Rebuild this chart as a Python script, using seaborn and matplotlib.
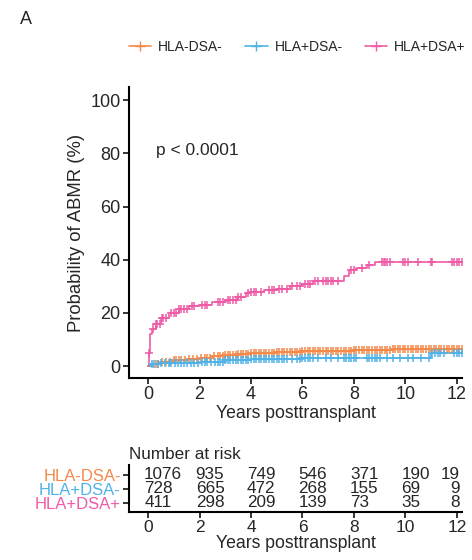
import numpy as np
import pandas as pd
import matplotlib
matplotlib.use("Agg")
import matplotlib.pyplot as plt
import seaborn as sns
from matplotlib.lines import Line2D

sns.set_style("white")
plt.rcParams['font.family'] = ['Liberation Sans', 'DejaVu Sans']

# ---- data ----
groups = ['HLA-DSA-', 'HLA+DSA-', 'HLA+DSA+']
colors = ['#F4894A', '#4FB3E8', '#EE5BA6']

# cumulative incidence steps (years, %)
t_neg = [0, 0.2, 0.5, 1.0, 1.5, 2.0, 2.5, 3.0, 3.5, 4.0, 5.0, 6.0, 7.5, 8.0, 8.5, 9.5, 12.3]
v_neg = [0, 0.8, 1.5, 2.2, 2.8, 3.2, 3.6, 4.2, 4.6, 5.0, 5.3, 5.5, 5.6, 5.9, 6.2, 6.5, 6.5]
t_hla = [0, 0.1, 0.5, 1.0, 2.0, 3.0, 4.0, 6.0, 10.8, 11.0, 12.3]
v_hla = [0, 0.6, 1.0, 1.3, 1.7, 2.4, 2.8, 3.0, 3.2, 5.0, 5.0]
t_dsa = [0, 0.03, 0.08, 0.15, 0.3, 0.5, 0.8, 1.2, 1.6, 2.0, 2.5, 3.0, 3.5, 3.8, 4.0,
         4.5, 5.0, 5.5, 6.0, 6.4, 7.6, 7.8, 8.1, 8.5, 8.8, 12.3]
v_dsa = [0, 5, 12, 14, 16, 18, 20, 21.5, 22.5, 23, 24, 25, 26, 27.5, 28,
         28.5, 29, 30, 31, 32, 34, 36, 37, 38, 39, 39]

# censoring times
c_neg = [0.3, 0.4, 0.55, 0.7, 0.85, 1.0, 1.1, 1.2, 1.3, 1.45, 1.6, 1.75, 1.9, 2.05, 2.2,
         2.3, 2.4, 2.55, 2.7, 2.8, 2.9, 3.0, 3.1, 3.2, 3.3, 3.4, 3.5, 3.6, 3.7, 3.8, 3.9,
         4.0, 4.1, 4.2, 4.3, 4.4, 4.5, 4.6, 4.7, 4.8, 4.9, 5.0, 5.1, 5.2, 5.3, 5.4, 5.5,
         5.6, 5.7, 5.8, 5.9, 6.0, 6.1, 6.2, 6.3, 6.4, 6.5, 6.6, 6.7, 6.8, 6.9, 7.0, 7.1,
         7.2, 7.3, 7.4, 7.5, 7.6, 7.7, 7.8, 7.9, 8.0, 8.1, 8.2, 8.3, 8.4, 8.5, 8.6, 8.7,
         8.8, 8.9, 9.0, 9.1, 9.2, 9.3, 9.4, 9.5, 9.6, 9.7, 9.8, 9.9, 10.0, 10.1, 10.2,
         10.3, 10.4, 10.5, 10.6, 10.7, 10.8, 10.9, 11.0, 11.1, 11.2, 11.3, 11.4, 11.5,
         11.6, 11.7, 11.8, 11.9, 12.0, 12.1, 12.2]
c_hla = [0.15, 0.25, 0.4, 0.5, 0.65, 0.8, 0.9, 1.05, 1.15, 1.3, 1.4, 1.5, 1.65, 1.8, 1.95,
         2.1, 2.2, 2.3, 2.45, 2.6, 2.7, 2.8, 2.9, 3.0, 3.1, 3.2, 3.3, 3.4, 3.5, 3.6, 3.7,
         3.8, 3.9, 4.0, 4.1, 4.2, 4.3, 4.4, 4.5, 4.6, 4.7, 4.8, 4.9, 5.0, 5.1, 5.2, 5.3,
         5.4, 5.6, 5.8, 5.9, 6.0, 6.1, 6.2, 6.3, 6.4, 6.6, 6.9, 7.1, 7.4, 7.6, 7.7, 7.8,
         7.9, 8.0, 8.1, 8.5, 8.6, 8.7, 8.8, 8.9, 9.0, 9.3, 9.5, 9.8, 10.1, 10.3, 10.6,
         10.9, 11.05, 11.15, 11.25, 11.35, 11.5, 11.9, 12.0, 12.1, 12.2]
c_dsa = [0.05, 0.2, 0.3, 0.35, 0.45, 0.55, 0.6, 0.7, 0.9, 1.0, 1.1, 1.2, 1.3, 1.4, 1.5,
         1.7, 1.8, 2.1, 2.2, 2.3, 2.7, 2.8, 2.9, 3.1, 3.2, 3.3, 3.4, 3.5, 3.6, 3.9, 4.0,
         4.1, 4.2, 4.4, 4.7, 4.8, 4.9, 5.1, 5.2, 5.4, 5.6, 5.8, 5.9, 6.1, 6.2, 6.3, 6.5,
         6.6, 6.8, 6.9, 7.0, 7.1, 7.2, 7.4, 7.9, 8.0, 8.3, 8.6, 9.1, 9.15, 9.2, 9.3, 9.4,
         9.9, 10.0, 10.1, 10.5, 11.0, 11.05, 11.8, 11.9, 12.0, 12.1, 12.2]

risk_times = [0, 2, 4, 6, 8, 10, 12]
risk_neg = [1076, 935, 749, 546, 371, 190, 19]
risk_hla = [728, 665, 472, 268, 155, 69, 9]
risk_dsa = [411, 298, 209, 139, 73, 35, 8]

curves = [(t_neg, v_neg, c_neg), (t_hla, v_hla, c_hla), (t_dsa, v_dsa, c_dsa)]
risks = [risk_neg, risk_hla, risk_dsa]

# ---- figure ----
fig = plt.figure(figsize=(4.72, 5.6), dpi=100)
ax = fig.add_axes([129 / 472, 1 - 378 / 560, 333 / 472, 291 / 560])

for (t, v, c), g, col in zip(curves, groups, colors):
    d = pd.DataFrame({'t': t, 'v': v})
    sns.lineplot(data=d, x='t', y='v', ax=ax, color=col, lw=1.2,
                 drawstyle='steps-post', estimator=None, sort=False)
    idx = np.searchsorted(np.array(t), np.array(c), side='right') - 1
    cd = pd.DataFrame({'t': c, 'v': np.array(v)[idx]})
    sns.scatterplot(data=cd, x='t', y='v', ax=ax, color=col, marker='+',
                    s=40, linewidth=1.1, zorder=3)

ax.set_xlim(-0.74, 12.2)
ax.set_ylim(-4.5, 105)
ax.set_xticks(range(0, 13, 2))
ax.set_yticks(range(0, 101, 20))
ax.set_xlabel('Years posttransplant', fontsize=12.7, labelpad=1)
ax.set_ylabel('Probability of ABMR (%)', fontsize=13.3)
ax.tick_params(labelsize=13, length=4, width=1.3, direction='out', pad=2,
               bottom=True, left=True)
for s in ['top', 'right']:
    ax.spines[s].set_visible(False)
for s in ['left', 'bottom']:
    ax.spines[s].set_linewidth(1.5)
    ax.spines[s].set_color('black')
ax.text(0.3, 81, 'p < 0.0001', fontsize=12.5, va='center')

handles = [Line2D([0], [0], color=c, marker='+', markersize=7, lw=1.2) for c in colors]
fig.legend(handles, groups, loc='center', bbox_to_anchor=(0.63, 1 - 47 / 560),
           ncol=3, frameon=False, fontsize=10, handlelength=1.6,
           handletextpad=0.5, columnspacing=1.6)

fig.text(20 / 472, 1 - 20 / 560, 'A', fontsize=13, va='center')

# ---- risk table ----
rt = fig.add_axes([129 / 472, 1 - 512 / 560, 333 / 472, 47 / 560])
rt.set_xlim(-0.74, 12.2)
rt.set_ylim(0.36, 3.7)
rows = [3, 2, 1]
for r, vals in zip(rows, risks):
    for tt, n in zip(risk_times, vals):
        if tt == 12:
            rt.text(12.1, r, str(n), ha='right', va='center', fontsize=12.3)
        else:
            rt.text(tt - 0.15, r, str(n), ha='left', va='center', fontsize=12.3)
rt.set_yticks(rows)
rt.set_yticklabels(groups, fontsize=12)
for lab, col in zip(rt.get_yticklabels(), colors):
    lab.set_color(col)
rt.set_xticks(range(0, 13, 2))
rt.tick_params(labelsize=12.5, length=4, width=1.3, direction='out', pad=2,
               bottom=True, left=True)
rt.tick_params(axis='y', labelsize=12)
for s in ['top', 'right']:
    rt.spines[s].set_visible(False)
for s in ['left', 'bottom']:
    rt.spines[s].set_linewidth(1.5)
    rt.spines[s].set_color('black')
rt.set_xlabel('Years posttransplant', fontsize=12.7, labelpad=0)
rt.set_title('Number at risk', fontsize=12.3, loc='left', pad=4, x=0.0)

fig.savefig('out.png', dpi=100)
